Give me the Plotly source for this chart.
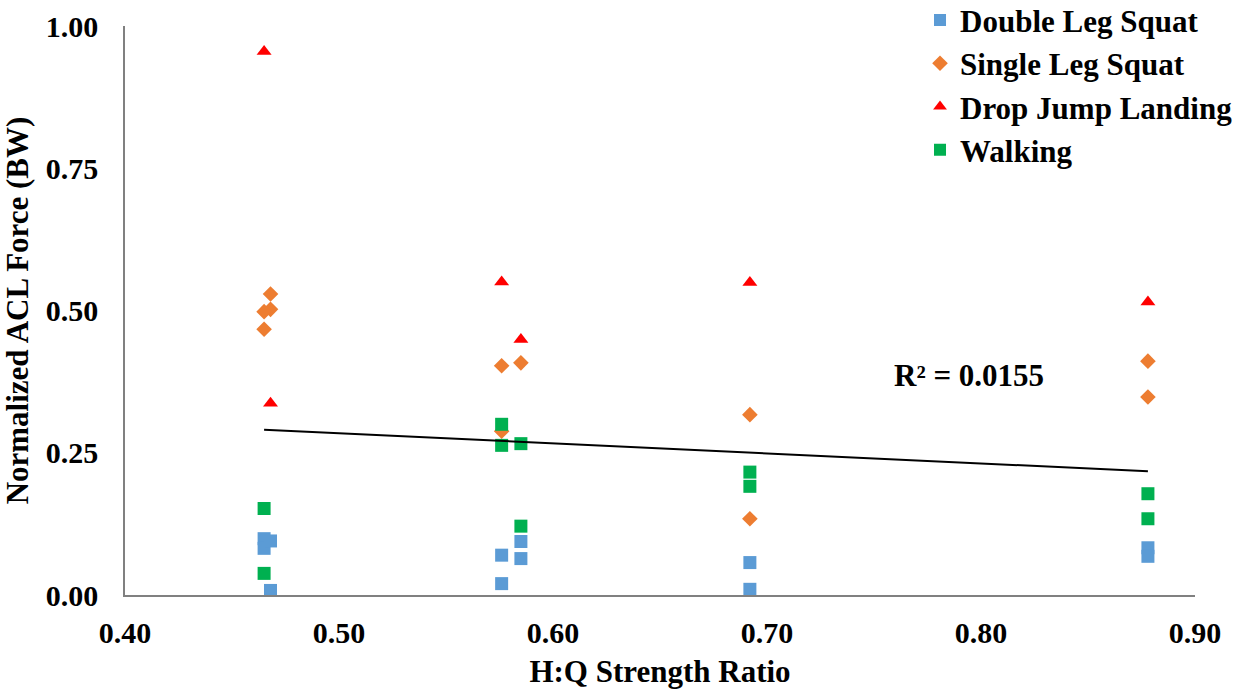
import numpy as np
import plotly.graph_objects as go

# ---- data ----
dls_x = [0.465, 0.465, 0.468, 0.468, 0.576, 0.576, 0.585, 0.585, 0.692, 0.692, 0.878, 0.878]
dls_y = [0.099, 0.082, 0.095, 0.008, 0.070, 0.020, 0.094, 0.064, 0.057, 0.010, 0.083, 0.068]

sls_x = [0.468, 0.468, 0.465, 0.465, 0.576, 0.585, 0.576, 0.692, 0.692, 0.878, 0.878]
sls_y = [0.529, 0.502, 0.498, 0.467, 0.403, 0.408, 0.288, 0.317, 0.134, 0.411, 0.348]

djl_x = [0.465, 0.468, 0.576, 0.585, 0.692, 0.878]
djl_y = [0.955, 0.337, 0.550, 0.449, 0.549, 0.515]

walk_x = [0.465, 0.465, 0.576, 0.576, 0.585, 0.585, 0.692, 0.692, 0.878, 0.878]
walk_y = [0.152, 0.038, 0.300, 0.263, 0.266, 0.121, 0.216, 0.191, 0.178, 0.134]

x_ticks = [0.40, 0.50, 0.60, 0.70, 0.80, 0.90]
y_ticks = [0.00, 0.25, 0.50, 0.75, 1.00]
r2_label = "R² = 0.0155"

FONT = "Liberation Serif"

fig = go.Figure()

series = [
    ("Double Leg Squat", dls_x, dls_y, "square", 13, "#5B9BD5"),
    ("Single Leg Squat", sls_x, sls_y, "diamond", 12, "#ED7D31"),
    ("Drop Jump Landing", djl_x, djl_y, "triangle-up", 13, "#FF0000"),
    ("Walking", walk_x, walk_y, "square", 13, "#00B050"),
]
for name, xs, ys, sym, sz, col in series:
    fig.add_trace(go.Scatter(
        x=xs, y=ys, mode="markers", name=name, legendgroup=name,
        marker=dict(symbol=sym, size=sz, color=col, line=dict(width=0)),
    ))

# linear trendline over all points
all_x = np.array(dls_x + sls_x + djl_x + walk_x)
all_y = np.array(dls_y + sls_y + djl_y + walk_y)
slope, intercept = np.polyfit(all_x, all_y, 1)
tx = np.array([all_x.min(), all_x.max()])
fig.add_trace(go.Scatter(
    x=tx, y=slope * tx + intercept, mode="lines", showlegend=False,
    line=dict(color="black", width=2), hoverinfo="skip",
))

fig.add_annotation(
    x=0.7945, y=0.385, xref="x", yref="y", text=r2_label, showarrow=False,
    font=dict(family=FONT, size=31, color="black", weight="bold"),
)

fig.update_layout(
    width=1242, height=689,
    margin=dict(l=125, r=47, t=26, b=94, autoexpand=False),
    paper_bgcolor="white", plot_bgcolor="white",
    font=dict(family=FONT, size=30, color="black", weight="bold"),
    showlegend=True,
    legend=dict(
        x=0.743, y=1.0575, xanchor="left", yanchor="top",
        font=dict(family=FONT, size=31, color="black", weight="bold"),
        tracegroupgap=0, bgcolor="rgba(0,0,0,0)", itemsizing="constant",
    ),
    xaxis=dict(
        range=[0.40, 0.90], tickvals=x_ticks, tickformat=".2f",
        showgrid=False, zeroline=False, showline=True, linecolor="#808080", linewidth=1.5,
        ticks="", ticklabelstandoff=10, automargin=False,
        title=dict(text="H:Q Strength Ratio", font=dict(family=FONT, size=31, weight="bold"), standoff=14),
        tickfont=dict(family=FONT, size=30, weight="bold"),
    ),
    yaxis=dict(
        range=[0, 1.0], tickvals=y_ticks, tickformat=".2f",
        showgrid=False, zeroline=False, showline=True, linecolor="#808080", linewidth=1.5,
        ticks="", ticklabelstandoff=19, automargin=False,
        title=dict(text="Normalized ACL Force (BW)", font=dict(family=FONT, size=31, weight="bold"), standoff=9),
        tickfont=dict(family=FONT, size=30, weight="bold"),
    ),
)

fig.write_html("out.html")
